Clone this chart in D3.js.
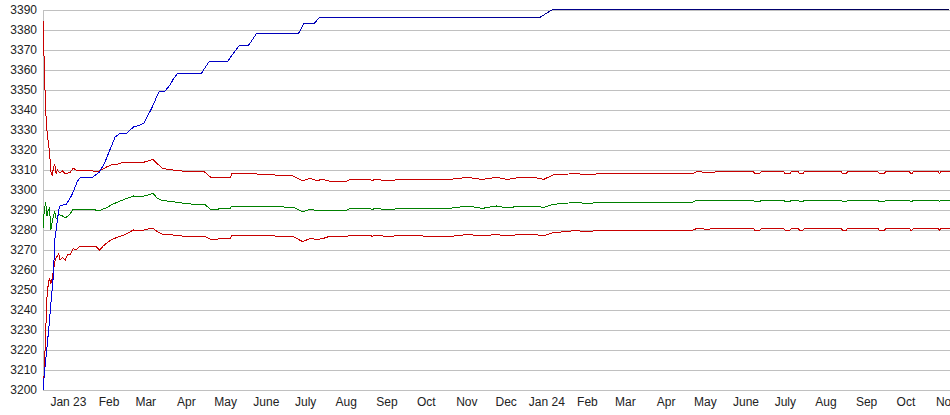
<!DOCTYPE html>
<html lang="en">
<head>
<meta charset="utf-8">
<title>Chart</title>
<script src="https://cdn.jsdelivr.net/npm/d3@7"></script>
<style>
  body { margin: 0; background: #fff; }
  .axis text { font-family: "Liberation Sans", Arial, sans-serif; font-size: 12px; fill: #222; }
  .grid line, .grid path { stroke: #c0c0c0; shape-rendering: crispEdges; }
  .series { fill: none; stroke-width: 1; shape-rendering: crispEdges; }
</style>
</head>
<body>
<script>
// top (rising) series
var blueDates = ["2022-12-13","2022-12-14","2022-12-16","2022-12-18","2022-12-19","2022-12-21","2022-12-22",
  "2022-12-25","2022-12-26","2022-12-31","2023-01-04","2023-01-08","2023-01-10","2023-01-20","2023-01-25",
  "2023-01-29","2023-02-02","2023-02-06","2023-02-10","2023-02-15","2023-02-20","2023-02-25","2023-02-28",
  "2023-03-02","2023-03-06","2023-03-10","2023-03-12","2023-03-16","2023-03-20","2023-03-22","2023-03-26",
  "2023-04-13","2023-04-19","2023-05-03","2023-05-12","2023-05-19","2023-05-25","2023-06-26","2023-06-30",
  "2023-07-08","2023-07-12","2023-12-27","2024-01-06","2024-11-03"];
var blueValues = [3200,3208,3221,3235,3243,3258,3275,
  3290,3292,3293,3297.5,3304,3306,3306.5,3309,
  3313.5,3320,3326.5,3328.5,3328.5,3331.5,3332.5,3333.5,
  3336,3341,3347,3349.5,3349.5,3352.5,3355,3358.5,
  3358.5,3364.5,3364.5,3372.5,3372.5,3378.3,3378.3,3383.3,
  3383.3,3386.3,3386.3,3390.3,3390.3];

// the three parallel series share dates
var bandDates = ["2022-12-13","2022-12-14","2022-12-15","2022-12-16","2022-12-17","2022-12-18","2022-12-19",
  "2022-12-20","2022-12-21","2022-12-22","2022-12-23","2022-12-24","2022-12-25","2022-12-26","2022-12-28",
  "2022-12-30","2023-01-01","2023-01-03","2023-01-05","2023-01-07","2023-01-10","2023-01-18","2023-01-22",
  "2023-01-25","2023-01-28","2023-01-31","2023-02-03","2023-02-08","2023-02-13","2023-02-20","2023-02-26",
  "2023-03-03","2023-03-07","2023-03-10","2023-03-14","2023-03-22","2023-03-29","2023-04-05","2023-04-15",
  "2023-04-20","2023-05-05","2023-05-06","2023-05-25","2023-06-08","2023-06-22","2023-06-29","2023-07-05",
  "2023-07-10","2023-07-14","2023-07-19","2023-08-02","2023-08-04","2023-08-20","2023-08-21","2023-08-23",
  "2023-09-05","2023-09-09","2023-10-19","2023-11-02","2023-11-13","2023-11-24","2023-12-02","2023-12-12",
  "2023-12-23","2023-12-30","2024-01-06","2024-01-18","2024-01-22","2024-02-03","2024-02-11","2024-04-22",
  "2024-04-25","2024-05-02","2024-05-15","2024-06-07","2024-06-08","2024-06-12","2024-06-13","2024-06-30",
  "2024-07-01","2024-07-05","2024-07-06","2024-07-11","2024-07-12","2024-07-15","2024-07-16","2024-08-13",
  "2024-08-14","2024-08-17","2024-08-18","2024-09-10","2024-09-11","2024-09-15","2024-09-16","2024-10-04",
  "2024-10-05","2024-10-06","2024-10-07","2024-10-26","2024-10-27","2024-10-28","2024-11-04"];
var upperValues = [3385,3362,3340,3330,3324,3319,3309,
  3307.5,3311,3313,3308,3310,3309,3308.7,3309.5,
  3308,3308.5,3309,3311,3310,3310,3310,3309,
  3309.5,3310.5,3311.7,3312.5,3313,3314,3314,3313.5,
  3314.5,3315.3,3313.3,3310.8,3310,3309.5,3309.2,3309.2,
  3306.3,3306.3,3308.3,3308,3307.5,3307,3304.7,3305.8,
  3304.7,3305.3,3304.5,3304.5,3305.3,3305.3,3304.5,3305.3,
  3304.5,3305.3,3305.3,3306.3,3305.3,3306.3,3305.3,3306.3,
  3306.3,3305.3,3307.5,3308,3308.3,3307.5,3308.3,3308.3,
  3309.2,3308.8,3309.2,3309.2,3308.3,3308.3,3309.2,3309.2,
  3308.3,3308.3,3309.2,3309.2,3308.3,3308.3,3309.2,3309.2,
  3308.3,3308.3,3309.2,3309.2,3308.3,3308.3,3309.2,3309.2,
  3308.3,3308.3,3309.2,3309.2,3308.3,3309.2,3309.2];
var middleValues = [3281,3290,3294,3287,3290,3291,3280,
  3284,3287,3289,3286,3286,3288,3287.5,3287,
  3286,3287,3288.3,3290.3,3290,3290.3,3290.5,3290,
  3289.7,3290.5,3291.3,3292.5,3294,3295.3,3297,3296.7,
  3297.5,3298.3,3296,3294.7,3294.2,3293.5,3293,3293,
  3290.3,3290.8,3292,3292,3291.7,3291.3,3289.2,3290.3,
  3289.8,3290,3290,3290,3290.8,3290.8,3290,3290.8,
  3290,3290.8,3290.8,3292,3290.8,3292,3291,3292,
  3292,3291.3,3292.8,3293.5,3293.8,3293.2,3294,3294,
  3295,3294.6,3295,3295,3294.2,3294.2,3295,3295,
  3294.2,3294.2,3295,3295,3294.2,3294.2,3295,3295,
  3294.2,3294.2,3295,3295,3294.2,3294.2,3295,3295,
  3294.2,3294.2,3295,3295,3294.2,3295,3295];
var lowerValues = [3200,3209,3228,3246,3253,3256,3253,
  3256,3260,3264,3266,3267,3268,3265,3266.3,
  3265,3268,3268,3270.8,3270,3271.7,3272,3272,
  3270,3272,3273.7,3275,3276.5,3277.5,3280,3279.7,
  3280.5,3281,3279.2,3278,3277.5,3277,3277,3277,
  3275.3,3275.8,3277.5,3277.5,3277,3276.7,3274.2,3275.8,
  3275.3,3275.6,3276.7,3276.7,3277.3,3277.3,3276.7,3277.3,
  3276.7,3277.3,3276.7,3277.8,3277,3277.8,3277,3277.8,
  3277.8,3277,3278.7,3279.3,3279.7,3279.2,3280,3280,
  3280.8,3280.4,3280.8,3280.8,3280,3280,3280.8,3280.8,
  3280,3280,3280.8,3280.8,3280,3280,3280.8,3280.8,
  3280,3280,3280.8,3280.8,3280,3280,3280.8,3280.8,
  3280,3280,3280.8,3280.8,3280,3280.8,3280.8];

var yTicks = d3.range(3200, 3391, 10);

var w = 950, h = 415;
var parse = d3.timeParse("%Y-%m-%d");

var svg = d3.select("body").append("svg")
  .attr("width", w)
  .attr("height", h);

var xScale = d3.scaleTime()
  .domain([parse("2022-12-13"), parse("2024-11-04")])
  .range([43, 950]);
var yScale = d3.scaleLinear()
  .domain([3200, 3390])
  .range([390, 10]);

// gradient for the top line: blue fading to near black
var grad = svg.append("defs").append("linearGradient")
  .attr("id", "topGrad")
  .attr("gradientUnits", "userSpaceOnUse")
  .attr("x1", 43).attr("x2", 950).attr("y1", 0).attr("y2", 0);
grad.append("stop").attr("offset", 0).attr("stop-color", "#0000e0");
grad.append("stop").attr("offset", 0.45).attr("stop-color", "#0000a0");
grad.append("stop").attr("offset", 1).attr("stop-color", "#000050");

// y axis + gridlines
var yAxis = d3.axisLeft(yScale)
  .tickValues(yTicks)
  .tickSize(-(950 - 43))
  .tickPadding(6)
  .tickFormat(d3.format("d"));
svg.append("g")
  .attr("class", "axis grid")
  .attr("transform", "translate(43,0)")
  .call(yAxis)
  .selectAll("text").attr("dy", "0.3em");

// x axis, month labels only
var fmt = function(d) {
  var m = d.getMonth();
  if (m === 0) return d3.timeFormat("Jan %y")(d);
  if (m === 5) return "June";
  if (m === 6) return "July";
  return d3.timeFormat("%b")(d);
};
var xAxis = d3.axisBottom(xScale)
  .ticks(d3.timeMonth.every(1))
  .tickSize(0)
  .tickPadding(7)
  .tickFormat(fmt);
var gx = svg.append("g")
  .attr("class", "axis")
  .attr("transform", "translate(0,390)")
  .call(xAxis);
gx.select(".domain").remove();

function toPoints(dates, values) {
  return dates.map(function(d, i) { return { date: parse(d), v: values[i] }; });
}

var line = d3.line()
  .x(function(d) { return xScale(d.date); })
  .y(function(d) { return yScale(d.v); });

var series = [
  { pts: toPoints(bandDates, lowerValues), color: "#c80000" },
  { pts: toPoints(bandDates, middleValues), color: "#008000" },
  { pts: toPoints(bandDates, upperValues), color: "#c80000" },
  { pts: toPoints(blueDates, blueValues), color: "url(#topGrad)" }
];

svg.selectAll("path.series")
  .data(series)
  .enter()
  .append("path")
  .attr("class", "series")
  .attr("d", function(d) { return line(d.pts); })
  .attr("stroke", function(d) { return d.color; });
</script>
</body>
</html>
